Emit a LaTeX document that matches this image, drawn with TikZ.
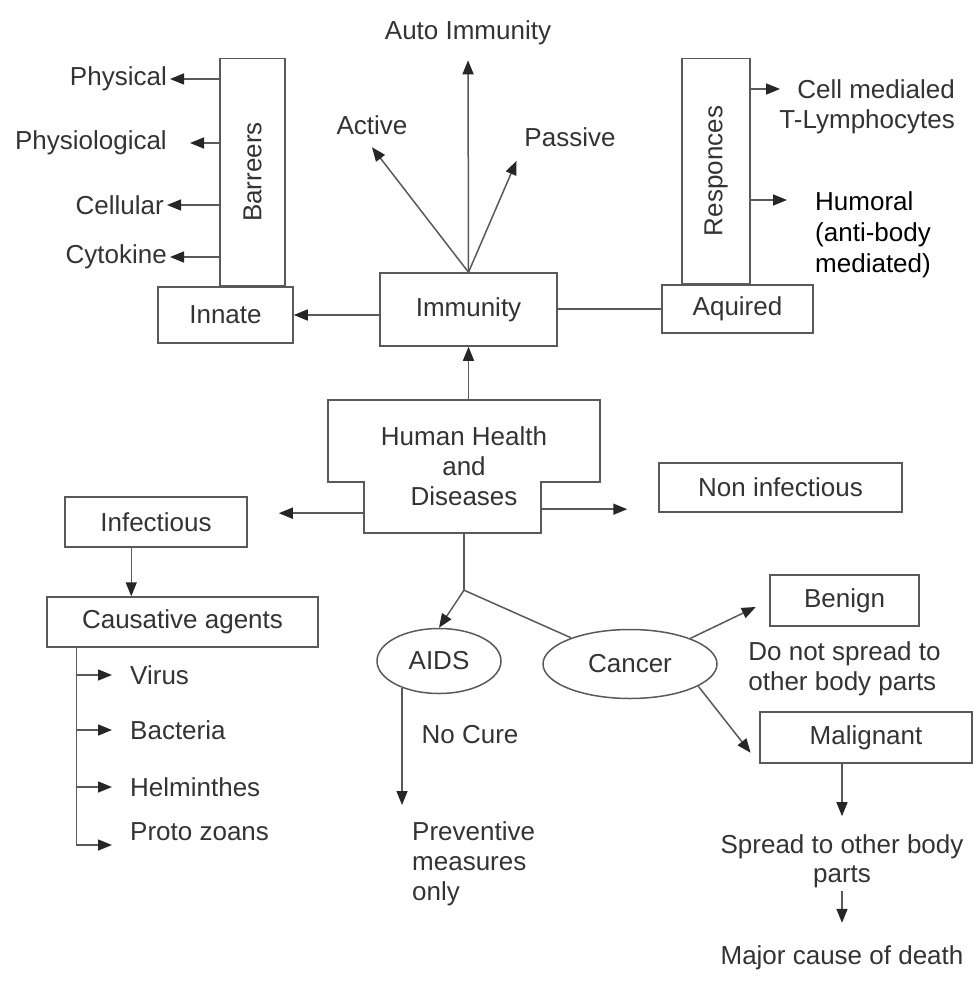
\documentclass[tikz,border=0pt]{standalone}
\usepackage{fontspec}
\setmainfont{Liberation Sans}
\usetikzlibrary{arrows.meta,calc,positioning,shapes.geometric}

\begin{document}
\begin{tikzpicture}[
    x=1pt, y=-1pt,
    node distance=15pt and 20pt,
    every node/.style={font=\fontsize{26}{30}\selectfont,text=black!80,align=center},
    box/.style={draw=black!65,line width=1.5pt,inner sep=0pt},
    oval/.style={ellipse,draw=black!65,line width=1.5pt,inner sep=0pt},
    lbl/.style={inner sep=3pt},
    arrow/.style={-{Triangle[length=14pt,width=11pt,color=black!85]},draw=black!65,line width=1.5pt},
    link/.style={draw=black!65,line width=1.5pt}
]
\useasboundingbox (0,0) rectangle (973,984);

\node[box,minimum width=177pt,minimum height=73pt] (immu) at (468.5,309.5) {Immunity};
\node[box,minimum width=135pt,minimum height=56pt] (innate) at (225.5,315) {Innate};
\node[box,minimum width=151pt,minimum height=48pt] (aqui) at (737.5,309) {Aquired};
\node[box,anchor=south west,minimum width=65pt,minimum height=227pt] (barr) at ($(innate.north west)+(62,0)$) {\rotatebox{90}{Barreers}};
\node[box,anchor=south west,minimum width=68pt,minimum height=225pt] (resp) at ($(aqui.north west)+(20,0)$) {\rotatebox{90}{Responces}};

\node[lbl,anchor=east] (phys) at (170,79) {Physical};
\node[lbl,anchor=east] (physio) at (170,143) {Physiological};
\node[lbl,anchor=east] (cellu) at (167,205) {Cellular};
\node[lbl,anchor=east] (cyto) at (170,257) {Cytokine};

\node[lbl] (auto) at (468,33) {Auto Immunity};
\node[lbl] (active) at (372,125) {Active};
\node[lbl] (passive) at (570,137) {Passive};

\node[lbl,anchor=east] (cellmed) at (958,89) {Cell medialed};
\node[lbl,anchor=east] (tlym) at (958,122) {T-Lymphocytes};
\node[lbl,anchor=north west,align=left,text=black,font=\fontsize{26}{31}\selectfont] (humoral) at (812,188) {Humoral\\(anti-body\\mediated)};
\coordinate (humtip) at (787,200);

\node[minimum width=272pt,minimum height=133pt,inner sep=0pt] (hhd) at (464,466.5) {Human Health\\and\\Diseases};
\draw[link] (hhd.north west) -- (hhd.north east) -- ++(0,82) -| ($(hhd.south east)+(-59,0)$)
    -- ($(hhd.south west)+(36,0)$) |- ($(hhd.north west)+(0,82)$) -- cycle;
\coordinate (hl) at ($(hhd.south west)+(36,-20)$);
\coordinate (hr) at ($(hhd.south east)+(-59,-24)$);
\coordinate (fork) at ($(hhd.south)+(0,57)$);

\node[box,minimum width=182pt,minimum height=50pt] (infect) at (156,522) {Infectious};
\node[box,minimum width=243pt,minimum height=49pt] (nonin) at (780.5,487.5) {Non infectious};
\node[box,minimum width=271pt,minimum height=50pt] (caus) at (182.5,622) {Causative agents};
\coordinate (trunk) at ($(caus.south west)+(30,0)$);

\node[lbl,anchor=west] (virus) at (127,675) {Virus};
\node[lbl,anchor=west] (bact) at (127,730) {Bacteria};
\node[lbl,anchor=west] (helm) at (127,787) {Helminthes};
\node[lbl,anchor=west] (proto) at (127,832) {Proto zoans};

\node[oval,minimum width=124pt,minimum height=65pt] (aids) at (439,661) {AIDS};
\node[oval,minimum width=174pt,minimum height=69pt] (cancer) at (630,664) {Cancer};
\node[lbl] (nocure) at (470,735) {No Cure};
\node[lbl,anchor=north west,align=left] (prev) at (409,818) {Preventive\\measures\\only};

\node[box,minimum width=149pt,minimum height=51pt] (benign) at (844.5,600.5) {Benign};
\node[lbl,below=12pt of benign,align=left] (nospread) {Do not spread to\\other body parts};
\node[box,minimum width=212pt,minimum height=51pt] (malig) at (866,737.5) {Malignant};
\node[lbl,font=\fontsize{26}{29}\selectfont] (spread) at (842,861) {Spread to other body\\parts};
\node[lbl,below=52pt of spread] (death) {Major cause of death};

\draw[arrow] (barr.west |- phys) -- (phys.east);
\draw[arrow,shorten >=20pt] (barr.west |- physio) -- (physio.east);
\draw[arrow] (barr.west |- cellu) -- (cellu.east);
\draw[arrow] (barr.west |- cyto) -- (cyto.east);

\draw[arrow,shorten >=12pt] (immu.north) -- (auto.south);
\draw[arrow,shorten >=12pt] (immu.north) -- (active.240);
\draw[arrow,shorten >=12pt] (immu.north) -- (passive.south west);
\draw[arrow] (immu.west |- innate) -- (innate.east);
\draw[link] (immu.east |- aqui) -- (aqui.west);

\draw[arrow,shorten >=14pt] (resp.east |- cellmed) -- (cellmed.west);
\draw[arrow] (resp.east |- humtip) -- (humtip);

\draw[arrow] (hhd.north -| immu) -- (immu.south);
\draw[arrow,shorten >=31pt] (hl) -- (hl -| infect.east);
\draw[arrow,shorten >=31pt] (hr) -- (hr -| nonin.west);
\draw[arrow] ($(infect.south west)+(67,0)$) coordinate (ic) -- (ic |- caus.north);

\draw[arrow,shorten >=15pt] (trunk |- virus) -- (virus.west);
\draw[arrow,shorten >=15pt] (trunk |- bact) -- (bact.west);
\draw[arrow,shorten >=15pt] (trunk |- helm) -- (helm.west);
\draw[arrow] (trunk) |- ($(proto.west)+(-15,13)$);

\draw[link] (hhd.south) -- (fork);
\draw[arrow] (fork) -- (aids.north);
\draw[link] (fork) -- (cancer);
\draw[arrow,shorten >=13pt] (aids.216) -- (aids.216 |- prev.north);

\draw[arrow,shorten >=15pt] (cancer.23) -- (benign.west);
\draw[arrow,shorten >=14pt] (cancer.342) -- (malig.south west);
\draw[arrow,shorten >=15pt] (malig.south -| spread.north) -- (spread.north);
\draw[arrow,shorten >=20pt] (spread.south) -- (death.north);
\end{tikzpicture}
\end{document}
